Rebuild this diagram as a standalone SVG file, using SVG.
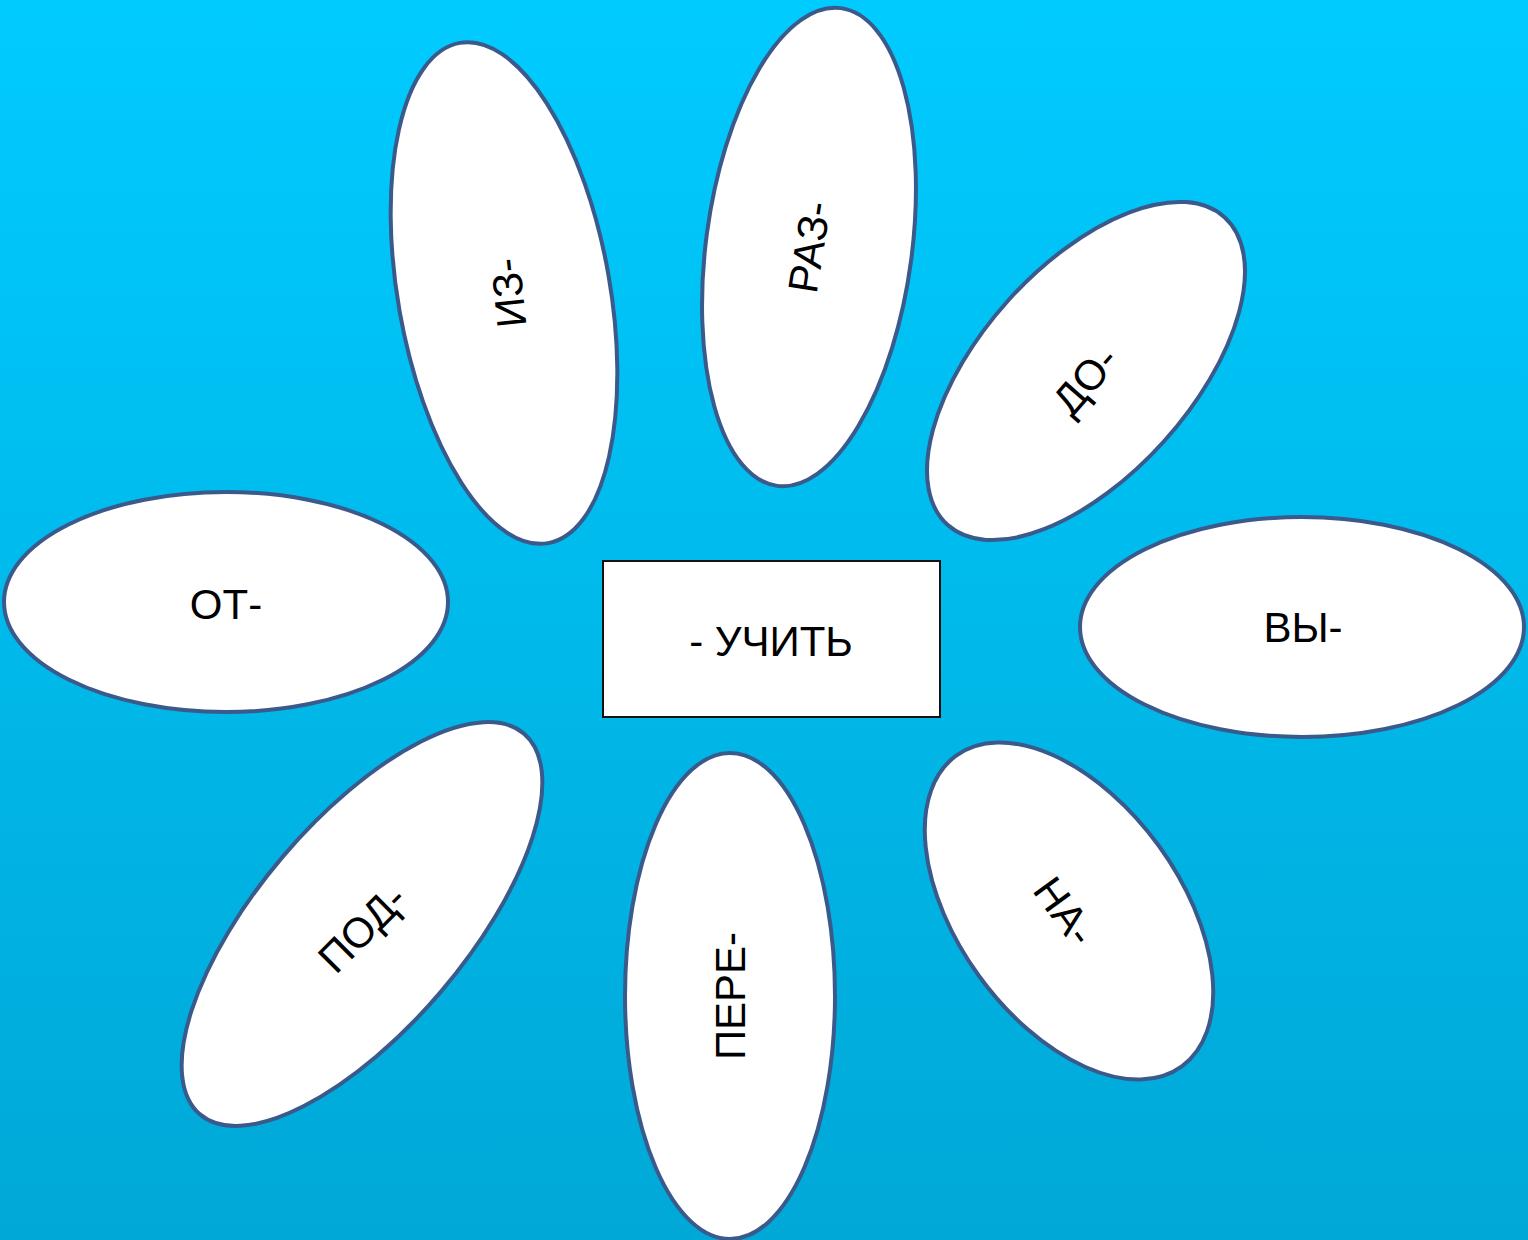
<svg xmlns="http://www.w3.org/2000/svg" width="1528" height="1240" viewBox="0 0 1528 1240">
<defs>
<linearGradient id="bg" x1="0" y1="0" x2="0" y2="1">
<stop offset="0" stop-color="#00CBFF"/>
<stop offset="1" stop-color="#00A8D7"/>
</linearGradient>
</defs>
<style>
.petal{fill:#ffffff;stroke:#3A5A8C;stroke-width:4}
.core{fill:#ffffff;stroke:#111111;stroke-width:2}
.t{font-family:"Liberation Sans",Arial,sans-serif;font-size:42px;fill:#000000;text-anchor:middle}
</style>
<rect x="0" y="0" width="1528" height="1240" fill="url(#bg)"/>
<g id="connectors"></g>
<g id="node-iz" transform="translate(504,293)">
<ellipse class="petal" cx="0" cy="0" rx="106" ry="254" transform="rotate(-10)"/>
<text class="t" transform="translate(4,0) rotate(-96)" x="0" y="15">ИЗ-</text>
</g>
<g id="node-raz" transform="translate(809,247)">
<ellipse class="petal" cx="0" cy="0" rx="103" ry="241" transform="rotate(7.6)"/>
<text class="t" transform="rotate(-81)" x="0" y="15">РАЗ-</text>
</g>
<g id="node-do" transform="translate(1086,371)">
<ellipse class="petal" cx="0" cy="0" rx="105" ry="207" transform="rotate(42)"/>
<text class="t" transform="translate(-1,9) rotate(-49)" x="0" y="15">ДО-</text>
</g>
<g id="node-vy" transform="translate(1302,627)">
<ellipse class="petal" cx="0" cy="0" rx="222" ry="110"/>
<text class="t" x="1" y="15">ВЫ-</text>
</g>
<g id="node-na" transform="translate(1069,911)">
<ellipse class="petal" cx="0" cy="0" rx="111" ry="192" transform="rotate(-36)"/>
<text class="t" transform="translate(-4,0) rotate(54)" x="0" y="15">НА-</text>
</g>
<g id="node-pere" transform="translate(730,996)">
<ellipse class="petal" cx="0" cy="0" rx="105" ry="243"/>
<text class="t" transform="rotate(-90)" x="0" y="15">ПЕРЕ-</text>
</g>
<g id="node-pod" transform="translate(362,924)">
<ellipse class="petal" cx="0" cy="0" rx="104" ry="250" transform="rotate(40.4)"/>
<text class="t" transform="translate(0,4) rotate(-45)" x="0" y="15">ПОД-</text>
</g>
<g id="node-ot" transform="translate(226,602)">
<ellipse class="petal" cx="0" cy="0" rx="222" ry="110"/>
<text class="t" x="0" y="17">ОТ-</text>
</g>
<g id="node-center">
<rect class="core" x="603" y="561" width="337" height="156"/>
<text class="t" x="771" y="656">- УЧИТЬ</text>
</g>
</svg>
